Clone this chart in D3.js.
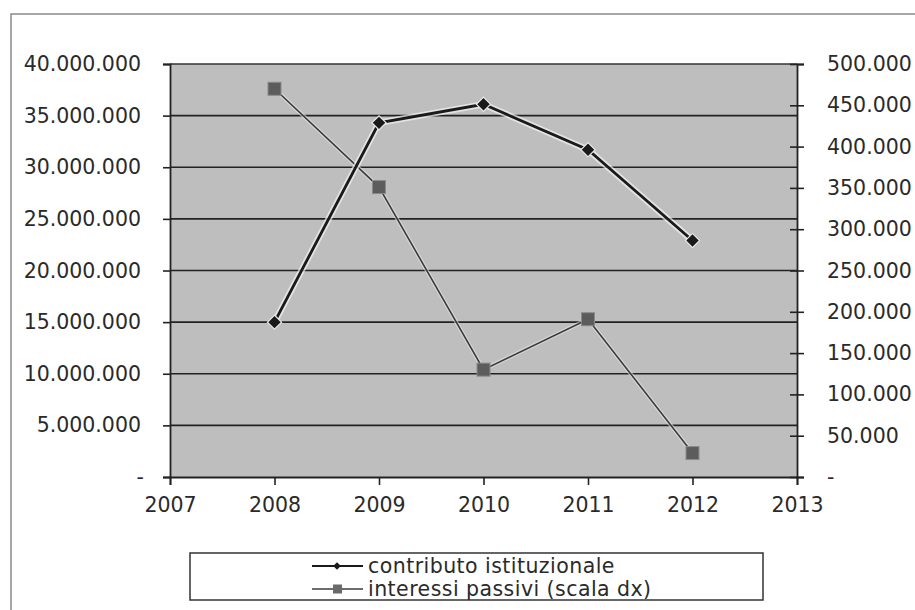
<!DOCTYPE html>
<html><head><meta charset="utf-8">
<script src="https://cdn.jsdelivr.net/npm/d3@7/dist/d3.min.js"></script>
<style>
body{margin:0;background:#fff;}
svg{display:block;font-family:"DejaVu Sans",Verdana,sans-serif;}
</style></head>
<body><svg id="c" width="915" height="610"></svg>
<script>
const years = [2008, 2009, 2010, 2011, 2012];
const contributo = [15000000, 34300000, 36100000, 31700000, 22900000];
const interessi = [470000, 351000, 130000, 191000, 29000];
const leftTicks = [0, 5000000, 10000000, 15000000, 20000000, 25000000, 30000000, 35000000, 40000000];
const rightTicks = [0, 50000, 100000, 150000, 200000, 250000, 300000, 350000, 400000, 450000, 500000];
const xTicks = [2007, 2008, 2009, 2010, 2011, 2012, 2013];
const seriesNames = ["contributo istituzionale", "interessi passivi (scala dx)"];

const svg = d3.select("#c");
const L = 170, R = 797, T = 64, B = 477;
const x = d3.scaleLinear().domain([2007, 2013]).range([L, R]);
const yL = d3.scaleLinear().domain([0, 40000000]).range([B, T]);
const yR = d3.scaleLinear().domain([0, 500000]).range([B, T]);
const loc = d3.formatLocale({decimal: ",", thousands: ".", grouping: [3], currency: ["", "€"]});
const fmt = d => d === 0 ? "-" : loc.format(",")(d);

// outer frame
svg.append("path").attr("d", "M11,620 L11,14 L925,14").attr("fill", "none").attr("stroke", "#8a8a8a").attr("stroke-width", 1.5);

// plot background
svg.append("rect").attr("x", L).attr("y", T).attr("width", R - L).attr("height", B - T).attr("fill", "#bebebe");

// gridlines
svg.append("g").selectAll("line").data(leftTicks.filter(d => d > 0 && d < 40000000)).join("line")
  .attr("x1", L).attr("x2", R).attr("y1", d => yL(d)).attr("y2", d => yL(d))
  .attr("stroke", "#222").attr("stroke-width", 1.6);

// plot border (top)
svg.append("line").attr("x1", L).attr("x2", R).attr("y1", T).attr("y2", T).attr("stroke", "#333").attr("stroke-width", 1.5);

const fontSize = "20.5px";
// left axis
const gl = svg.append("g").attr("transform", `translate(${L},0)`)
  .call(d3.axisLeft(yL).tickValues(leftTicks).tickFormat(fmt).tickSize(7).tickPadding(22));
// right axis
const gr = svg.append("g").attr("transform", `translate(${R},0)`)
  .call(d3.axisRight(yR).tickValues(rightTicks).tickFormat(fmt).tickSize(7).tickPadding(23));
gr.selectAll(".tick line").attr("x1", -7);
// bottom axis
const gb = svg.append("g").attr("transform", `translate(0,${B})`)
  .call(d3.axisBottom(x).tickValues(xTicks).tickFormat(d3.format("d")).tickSize(8).tickPadding(12));
[gl, gr, gb].forEach(g => {
  g.selectAll(".domain").attr("stroke", "#222").attr("stroke-width", 1.8);
  g.selectAll(".tick line").attr("stroke", "#222").attr("stroke-width", 1.6);
  g.selectAll("text").attr("fill", "#2a2a2a").style("font-size", fontSize).style("font-family", '"DejaVu Sans",Verdana,sans-serif');
});
gb.selectAll("text").attr("dy", "0.71em");
gl.selectAll(".tick").filter(d => d === 0).select("text").attr("dx", 3);

// series 2 (right axis)
const line2 = d3.line().x((d, i) => x(years[i])).y(d => yR(d));
svg.append("path").datum(interessi).attr("d", line2).attr("fill", "none").attr("stroke", "#e6e6e6").attr("stroke-width", 4).attr("opacity", 0.6);
svg.append("path").datum(interessi).attr("d", line2).attr("fill", "none").attr("stroke", "#3c3c3c").attr("stroke-width", 1.6);
svg.append("g").selectAll("rect").data(interessi).join("rect")
  .attr("x", (d, i) => x(years[i]) - 6.5).attr("y", d => yR(d) - 6.5).attr("width", 13).attr("height", 13)
  .attr("fill", "#5c5c5c").attr("stroke", "#8a8a8a").attr("stroke-width", 1);

// series 1 (left axis)
const line1 = d3.line().x((d, i) => x(years[i])).y(d => yL(d));
svg.append("path").datum(contributo).attr("d", line1).attr("fill", "none").attr("stroke", "#f2f2f2").attr("stroke-width", 6.5).attr("opacity", 0.7);
svg.append("path").datum(contributo).attr("d", line1).attr("fill", "none").attr("stroke", "#1a1a1a").attr("stroke-width", 2.8);
svg.append("g").selectAll("path").data(contributo).join("path")
  .attr("transform", (d, i) => `translate(${x(years[i])},${yL(d)}) rotate(45)`)
  .attr("d", d3.symbol().type(d3.symbolSquare).size(100))
  .attr("fill", "#1a1a1a").attr("stroke", "#e8e8e8").attr("stroke-width", 1.2);

// legend
const lg = svg.append("g");
lg.append("rect").attr("x", 190).attr("y", 553).attr("width", 573).attr("height", 47)
  .attr("fill", "#fff").attr("stroke", "#333").attr("stroke-width", 1.5);
const ly = [566, 589];
lg.append("line").attr("x1", 312).attr("x2", 363).attr("y1", ly[0]).attr("y2", ly[0]).attr("stroke", "#1a1a1a").attr("stroke-width", 1.8);
lg.append("path").attr("transform", `translate(337,${ly[0]}) rotate(45)`).attr("d", d3.symbol().type(d3.symbolSquare).size(30)).attr("fill", "#1a1a1a");
lg.append("line").attr("x1", 312).attr("x2", 363).attr("y1", ly[1]).attr("y2", ly[1]).attr("stroke", "#3c3c3c").attr("stroke-width", 1.5);
lg.append("rect").attr("x", 333).attr("y", ly[1] - 4.5).attr("width", 9).attr("height", 9).attr("fill", "#6a6a6a");
lg.selectAll("text").data(seriesNames).join("text")
  .attr("x", 368).attr("y", (d, i) => ly[i]).attr("dy", "0.35em")
  .attr("fill", "#2a2a2a").style("font-size", fontSize).style("letter-spacing", "0.45px").text(d => d);
</script></body></html>
